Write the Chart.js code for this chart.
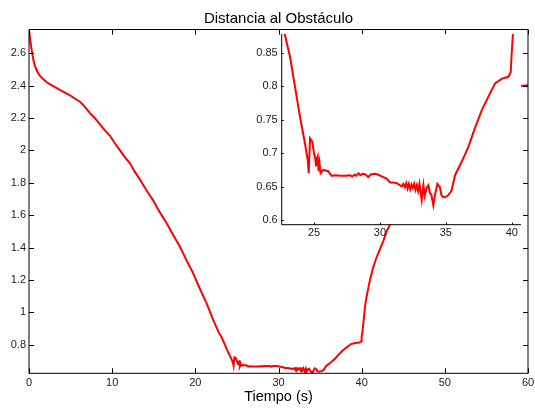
<!DOCTYPE html>
<html>
<head>
<meta charset="utf-8">
<title>Distancia al Obstáculo</title>
<script src="https://cdn.jsdelivr.net/npm/chart.js@4.4.0/dist/chart.umd.min.js"></script>
<style>
  html, body { margin: 0; padding: 0; background: #fff; }
  .wrap { position: relative; width: 535px; height: 410px; }
  #main { position: absolute; left: 0; top: 0; }
  #inset { position: absolute; left: 240px; top: 20px; }
</style>
</head>
<body>
<div class="wrap">
  <canvas id="main" width="535" height="410"></canvas>
  <canvas id="inset" width="290" height="230"></canvas>
</div>
<script>
const chartTitle = "Distancia al Obstáculo";
const xTitle = "Tiempo (s)";

// tiempo (s) y distancia (m)
const time = [
  0, 0.15, 0.32, 0.5, 0.72, 1.0, 1.32, 1.7, 2.13, 2.8, 3.5, 4.2, 4.93, 5.5, 6.13, 6.7, 7.33, 7.9, 8.53, 9.1,
  9.74, 10.3, 10.94, 11.5, 12.14, 12.7, 13.34, 14.1, 14.94, 15.7, 16.55, 17.3, 18.15, 18.9, 19.75, 20.5, 21.36, 22.1,
  22.8, 23.18, 23.56, 23.94, 24.32, 24.52, 24.6, 24.7, 24.87, 25.0, 25.08, 25.15, 25.2, 25.28, 25.35, 25.42, 25.5,
  25.7, 26.07, 26.34, 26.6, 27.0, 27.4, 27.73, 27.9, 28.1, 28.2, 28.37, 28.5, 28.7, 28.9, 29.12, 29.3, 29.6, 29.85,
  30.05, 30.26, 30.5, 30.64, 30.77, 31.0, 31.27, 31.45, 31.65, 31.78, 31.9, 32.0, 32.1, 32.2, 32.3, 32.4, 32.5, 32.6,
  32.7, 32.8, 32.9, 33.0, 33.1, 33.17, 33.3, 33.4, 33.54, 33.67, 33.8, 33.9, 34.05, 34.18, 34.36, 34.55, 34.67, 34.8,
  34.93, 35.18, 35.43, 35.7, 36.2, 36.7, 37.2, 37.72, 38.22, 38.73, 39.23, 39.74, 39.92, 40.0, 40.08, 40.2, 40.4,
  40.6, 41.0, 41.4, 41.8, 42.2, 42.6, 43.0, 43.4, 44, 45, 46, 47, 48, 49, 50, 51, 52, 53, 54, 55, 56, 57, 58, 59, 60,
];
const distance = [
  2.746, 2.68, 2.62, 2.565, 2.52, 2.485, 2.46, 2.44, 2.42, 2.4, 2.38, 2.36, 2.34, 2.32, 2.3, 2.27, 2.23, 2.2, 2.16, 2.125,
  2.09, 2.045, 2.0, 1.96, 1.92, 1.87, 1.82, 1.755, 1.69, 1.62, 1.55, 1.48, 1.405, 1.325, 1.24, 1.15, 1.055, 0.96,
  0.876, 0.844, 0.799, 0.754, 0.714, 0.69, 0.67, 0.722, 0.717, 0.7, 0.694, 0.68, 0.69, 0.695, 0.673, 0.685, 0.67,
  0.675, 0.673, 0.666, 0.667, 0.666, 0.666, 0.667, 0.665, 0.668, 0.666, 0.67, 0.667, 0.669, 0.668, 0.664, 0.668, 0.669, 0.668,
  0.666, 0.664, 0.662, 0.659, 0.656, 0.656, 0.655, 0.653, 0.65, 0.654, 0.649, 0.655, 0.647, 0.654, 0.646, 0.653, 0.648, 0.654,
  0.645, 0.652, 0.643, 0.654, 0.64, 0.63, 0.652, 0.636, 0.648, 0.652, 0.64, 0.638, 0.622, 0.638, 0.654, 0.649, 0.637, 0.634,
  0.634, 0.637, 0.644, 0.667, 0.687, 0.709, 0.737, 0.764, 0.784, 0.804, 0.811, 0.814, 0.821, 0.851, 0.876, 0.93, 1.035,
  1.1, 1.2, 1.28, 1.34, 1.39, 1.44, 1.5, 1.54, 1.6, 1.7, 1.79, 1.88, 1.96, 2.04, 2.11, 2.17, 2.22, 2.27, 2.31, 2.34, 2.36, 2.38, 2.39, 2.397, 2.402,
];

const mainXTicks = [0, 10, 20, 30, 40, 50, 60];
const mainYTicks = [0.8, 1, 1.2, 1.4, 1.6, 1.8, 2, 2.2, 2.4, 2.6];
const insetXTicks = [25, 30, 35, 40];
const insetYTicks = [0.6, 0.65, 0.7, 0.75, 0.8, 0.85];

Chart.defaults.font.family = "'Liberation Sans', Arial, Helvetica, sans-serif";
Chart.defaults.color = "#222";

const points = time.map((t, i) => ({ x: t, y: distance[i] }));
const fmt = (v) => String(+Number(v).toFixed(2));
const setTicks = (list) => (scale) => {
  scale.ticks = list.map((v) => ({ value: v }));
};
// fija el tamaño del eje y quita el relleno extra que añade Chart.js por las etiquetas
const fixSize = (key, size) => (s) => {
  s[key] = size;
  s.paddingLeft = 0;
  s.paddingRight = 0;
  s.paddingTop = 0;
  s.paddingBottom = 0;
};

// ejes estilo MATLAB: marcas hacia dentro y caja opcional
const axesBox = {
  id: "axesBox",
  afterDatasetsDraw(chart, args, opts) {
    const { ctx, chartArea: a, scales } = chart;
    const len = opts.tickLength;
    ctx.save();
    ctx.strokeStyle = "#000";
    ctx.lineWidth = 1;
    ctx.beginPath();
    ctx.moveTo(a.left, a.top);
    ctx.lineTo(a.left, a.bottom);
    ctx.lineTo(a.right, a.bottom);
    if (opts.box) {
      ctx.lineTo(a.right, a.top);
      ctx.lineTo(a.left, a.top);
    }
    scales.x.ticks.forEach((t) => {
      const px = Math.round(scales.x.getPixelForValue(t.value)) + 0.5;
      ctx.moveTo(px, a.bottom);
      ctx.lineTo(px, a.bottom - len);
      if (opts.box) {
        ctx.moveTo(px, a.top);
        ctx.lineTo(px, a.top + len);
      }
    });
    scales.y.ticks.forEach((t) => {
      const py = Math.round(scales.y.getPixelForValue(t.value)) + 0.5;
      ctx.moveTo(a.left, py);
      ctx.lineTo(a.left + len, py);
      if (opts.box) {
        ctx.moveTo(a.right, py);
        ctx.lineTo(a.right - len, py);
      }
    });
    ctx.stroke();
    ctx.restore();
  },
};

const whiteArea = {
  id: "whiteArea",
  beforeDraw(chart) {
    const { ctx, chartArea: a } = chart;
    ctx.save();
    ctx.fillStyle = "#fff";
    ctx.fillRect(a.left, a.top, a.right - a.left, a.bottom - a.top);
    ctx.restore();
  },
};

const noGrid = { display: false, drawTicks: false };

new Chart(document.getElementById("main"), {
  type: "line",
  data: {
    datasets: [{ data: points, borderColor: "#ff0000", borderWidth: 2, pointRadius: 0, tension: 0 }],
  },
  options: {
    responsive: false,
    animation: false,
    layout: { padding: { top: 0.5, left: 0, right: 7, bottom: 0 } },
    plugins: {
      legend: { display: false },
      tooltip: { enabled: false },
      title: {
        display: true,
        text: chartTitle,
        fullSize: false,
        color: "#000",
        font: { size: 15, weight: "normal" },
        padding: { top: 9, bottom: 2 },
      },
      axesBox: { tickLength: 5, box: true },
    },
    scales: {
      x: {
        type: "linear",
        min: 0,
        max: 60,
        grid: noGrid,
        border: { display: false },
        afterBuildTicks: setTicks(mainXTicks),
        afterFit: fixSize("height", 36.7),
        ticks: { font: { size: 11 }, padding: 3, maxRotation: 0, callback: fmt },
        title: { display: true, text: xTitle, color: "#000", font: { size: 14.5 }, padding: { top: 0, bottom: 4.6 } },
      },
      y: {
        min: 0.6235,
        max: 2.746,
        grid: noGrid,
        border: { display: false },
        afterBuildTicks: setTicks(mainYTicks),
        afterFit: fixSize("width", 29),
        ticks: { font: { size: 11 }, padding: 3, callback: fmt },
      },
    },
  },
  plugins: [axesBox],
});

new Chart(document.getElementById("inset"), {
  type: "line",
  data: {
    datasets: [{ data: points, borderColor: "#ff0000", borderWidth: 2, pointRadius: 0, tension: 0 }],
  },
  options: {
    responsive: false,
    animation: false,
    layout: { padding: { top: 14, left: 0, right: 9, bottom: 0 } },
    plugins: {
      legend: { display: false },
      tooltip: { enabled: false },
      axesBox: { tickLength: 2, box: false },
    },
    scales: {
      x: {
        type: "linear",
        min: 22.55,
        max: 40.7,
        grid: noGrid,
        border: { display: false },
        afterBuildTicks: setTicks(insetXTicks),
        afterFit: fixSize("height", 25.3),
        ticks: { font: { size: 11 }, padding: 2, maxRotation: 0, callback: fmt },
      },
      y: {
        min: 0.593,
        max: 0.878,
        grid: noGrid,
        border: { display: false },
        afterBuildTicks: setTicks(insetYTicks),
        afterFit: fixSize("width", 41.7),
        ticks: { font: { size: 11 }, padding: 4, callback: fmt },
      },
    },
  },
  plugins: [whiteArea, axesBox],
});
</script>
</body>
</html>
